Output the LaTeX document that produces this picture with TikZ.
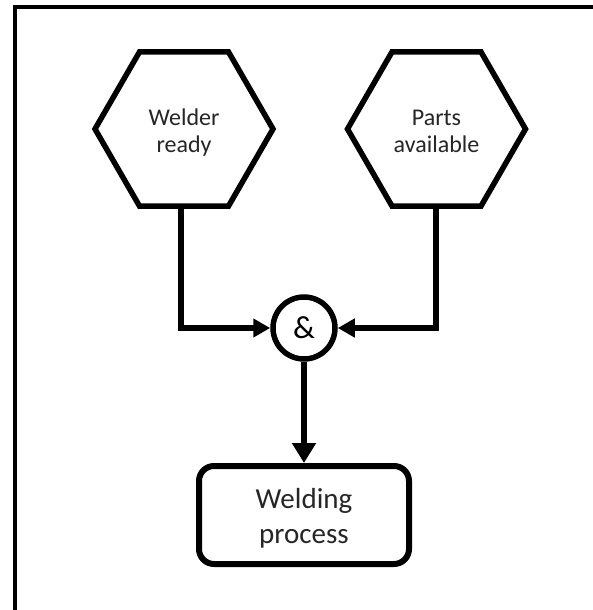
\documentclass[tikz,border=0pt]{standalone}
\usepackage{fontspec}
\setmainfont{Carlito}
\usetikzlibrary{shapes.geometric,arrows.meta}
\newcommand{\twolines}[3]{\raisebox{#1}[\height][\depth]{\begin{tabular}{@{}c@{}}#2\\#3\end{tabular}}}
\begin{document}
\begin{tikzpicture}[x=1pt,y=-1pt,
  hexbox/.style={draw, line width=5.5pt, regular polygon, regular polygon sides=6,
    minimum size=178pt, inner sep=0pt,
    font=\fontsize{24}{27.5}\selectfont, text=black!85},
  andgate/.style={draw, circle, line width=5.5pt, minimum size=62pt, inner sep=0pt,
    font=\fontsize{32}{36}\selectfont},
  procbox/.style={draw, rounded corners=15pt, line width=6pt, minimum width=210pt,
    minimum height=98pt, inner sep=0pt,
    font=\fontsize{29}{35}\selectfont, text=black!85},
  conn/.style={line width=5.5pt, -{Triangle[length=17pt,width=18pt]}},
  bigconn/.style={line width=6.5pt, -{Triangle[length=20pt,width=23pt]}},
  frame/.style={line width=4pt}
]
\useasboundingbox (0,0) rectangle (593,610);
\clip (0,0) rectangle (593,610);
\fill[white] (0,0) rectangle (593,610);
\draw[frame] (14.7,7) rectangle (595,640);
\node[hexbox] (h1) at (184,129) {\twolines{-4.5pt}{Welder}{ready}};
\node[hexbox] (h2) at (436.5,129) {\twolines{-4.5pt}{Parts}{available}};
\node[andgate] (and) at (304,328) {\&};
\node[procbox] (proc) at (304,515) {\twolines{-4pt}{Welding}{process}};
\draw[conn] ([xshift=-3pt]h1.south) |- (and);
\draw[conn] ([xshift=-0.5pt]h2.south) |- (and);
\draw[bigconn] (and.south) -- (proc.north);
\end{tikzpicture}
\end{document}
